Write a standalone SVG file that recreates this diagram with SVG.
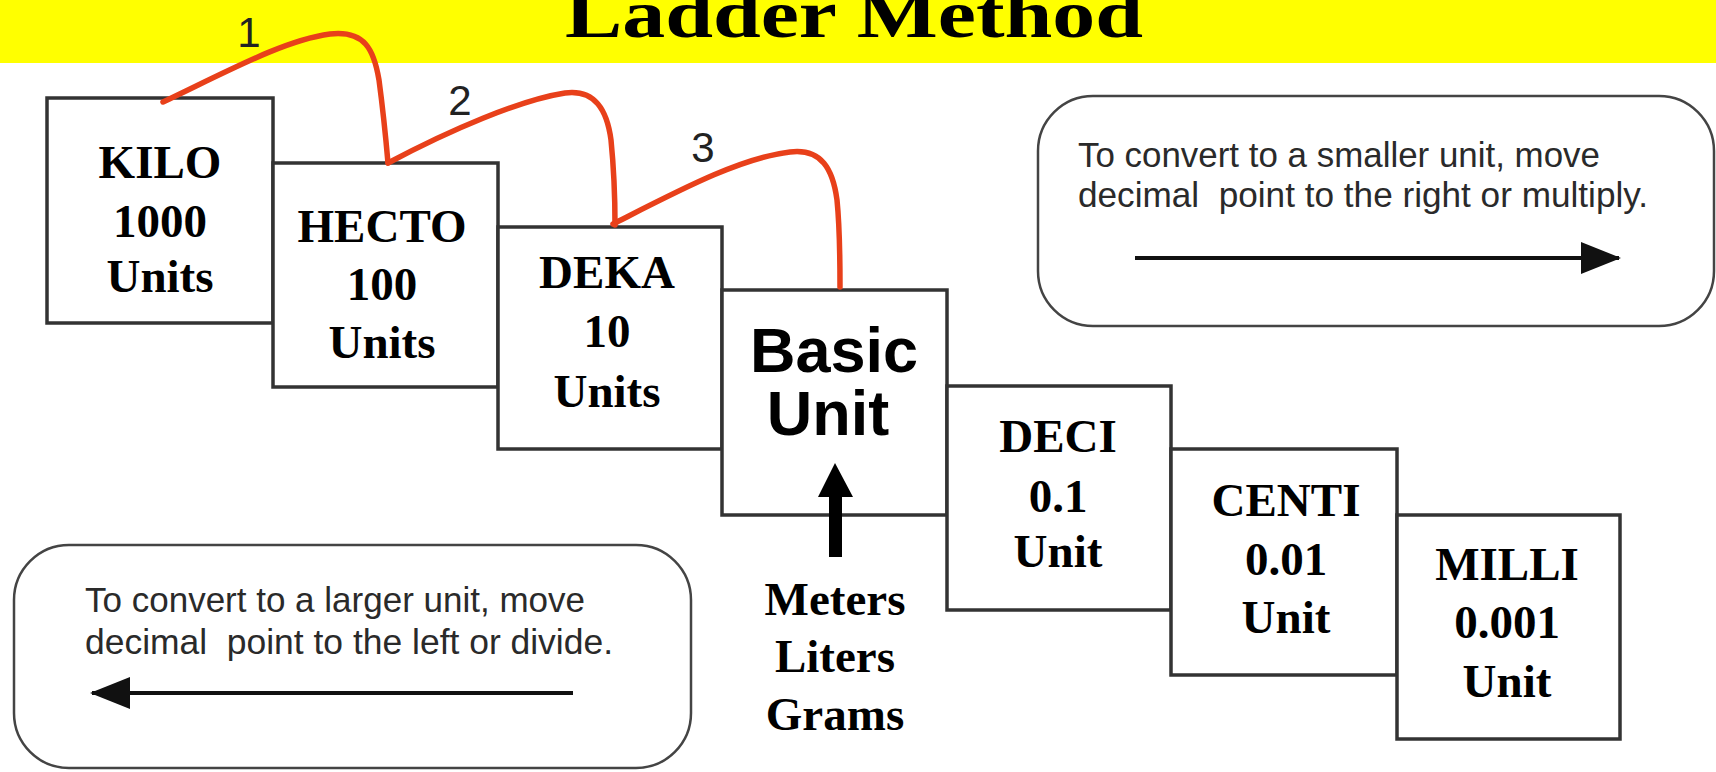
<svg xmlns="http://www.w3.org/2000/svg" width="1716" height="772" viewBox="0 0 1716 772">
<style>
.box{fill:#fff;stroke:#333;stroke-width:3.5}
.bt{font-family:"Liberation Serif","Times New Roman",serif;font-weight:bold;font-size:47px;fill:#000;text-anchor:middle}
.note{fill:#fff;stroke:#444;stroke-width:2.5}
.nt{font-family:"Liberation Sans",Arial,sans-serif;font-size:35px;fill:#2a2a2a}
.red{fill:none;stroke:#e8401a;stroke-width:5.5;stroke-linecap:round;stroke-linejoin:round}
.num{font-family:"Liberation Sans",Arial,sans-serif;font-size:42px;fill:#222;text-anchor:middle}
.arr{stroke:#111;stroke-width:4}
</style>
<defs>
<marker id="ah" markerWidth="10" markerHeight="8" refX="9.5" refY="4" orient="auto" markerUnits="strokeWidth">
<path d="M0,0 L10,4 L0,8 Z" fill="#111"/>
</marker>
</defs>
<rect width="1716" height="772" fill="#fff"/>
<g id="title">
<rect x="0" y="0" width="1716" height="63" fill="#ffff00"/>
<text x="565" y="37" font-family="'Liberation Serif','Times New Roman',serif" font-weight="bold" font-size="68" textLength="578" lengthAdjust="spacingAndGlyphs" fill="#000">Ladder Method</text>
</g>
<g id="kilo">
<rect class="box" x="47" y="98" width="226" height="225"/>
<text class="bt" x="160" y="178">KILO</text>
<text class="bt" x="160" y="237">1000</text>
<text class="bt" x="160" y="292">Units</text>
</g>
<g id="hecto">
<rect class="box" x="273" y="163" width="225" height="224"/>
<text class="bt" x="382" y="242">HECTO</text>
<text class="bt" x="382" y="300">100</text>
<text class="bt" x="382" y="358">Units</text>
</g>
<g id="deka">
<rect class="box" x="498" y="227" width="224" height="222"/>
<text class="bt" x="607" y="288">DEKA</text>
<text class="bt" x="607" y="347">10</text>
<text class="bt" x="607" y="407">Units</text>
</g>
<g id="basic">
<rect class="box" x="722" y="290" width="225" height="225"/>
<text x="834" y="372" font-family="'Liberation Sans',Arial,sans-serif" font-weight="bold" font-size="63" text-anchor="middle">Basic</text>
<text x="828" y="435" font-family="'Liberation Sans',Arial,sans-serif" font-weight="bold" font-size="63" text-anchor="middle">Unit</text>
</g>
<g id="deci">
<rect class="box" x="947" y="386" width="224" height="224"/>
<text class="bt" x="1058" y="452">DECI</text>
<text class="bt" x="1058" y="512">0.1</text>
<text class="bt" x="1058" y="567">Unit</text>
</g>
<g id="centi">
<rect class="box" x="1171" y="449" width="226" height="226"/>
<text class="bt" x="1286" y="516">CENTI</text>
<text class="bt" x="1286" y="575">0.01</text>
<text class="bt" x="1286" y="633">Unit</text>
</g>
<g id="milli">
<rect class="box" x="1397" y="515" width="223" height="224"/>
<text class="bt" x="1507" y="580">MILLI</text>
<text class="bt" x="1507" y="638">0.001</text>
<text class="bt" x="1507" y="697">Unit</text>
</g>
<g id="base-units">
<path d="M835,463 L853,497 L842,497 L842,557 L829,557 L829,497 L818,497 Z" fill="#000"/>
<text class="bt" x="835" y="615">Meters</text>
<text class="bt" x="835" y="672">Liters</text>
<text class="bt" x="835" y="730">Grams</text>
</g>
<g id="note-smaller">
<rect class="note" x="1038" y="96" width="676" height="230" rx="55" ry="55"/>
<text class="nt" x="1078" y="167" textLength="522" lengthAdjust="spacingAndGlyphs">To convert to a smaller unit, move</text>
<text class="nt" x="1078" y="207" textLength="570" lengthAdjust="spacingAndGlyphs" xml:space="preserve">decimal  point to the right or multiply.</text>
<line class="arr" x1="1135" y1="258" x2="1619" y2="258" marker-end="url(#ah)"/>
</g>
<g id="note-larger">
<rect class="note" x="14" y="545" width="677" height="223" rx="55" ry="55"/>
<text class="nt" x="85" y="612" textLength="500" lengthAdjust="spacingAndGlyphs">To convert to a larger unit, move</text>
<text class="nt" x="85" y="654" textLength="528" lengthAdjust="spacingAndGlyphs" xml:space="preserve">decimal  point to the left or divide.</text>
<line class="arr" x1="573" y1="693" x2="92" y2="693" marker-end="url(#ah)"/>
</g>
<g id="connectors">
<path class="red" d="M163,102 C230,70 285,40 330,34 C365,30 374,50 379,80 C383,110 386,140 388,163"/>
<path class="red" d="M388,163 C450,130 520,100 565,93 C595,89 607,110 611,140 C614,170 615,200 615,225"/>
<path class="red" d="M613,224 C680,190 740,158 790,152 C822,148 833,170 837,200 C840,230 840,260 840,287"/>
<text class="num" x="249" y="47">1</text>
<text class="num" x="460" y="115">2</text>
<text class="num" x="703" y="162">3</text>
</g>
</svg>
